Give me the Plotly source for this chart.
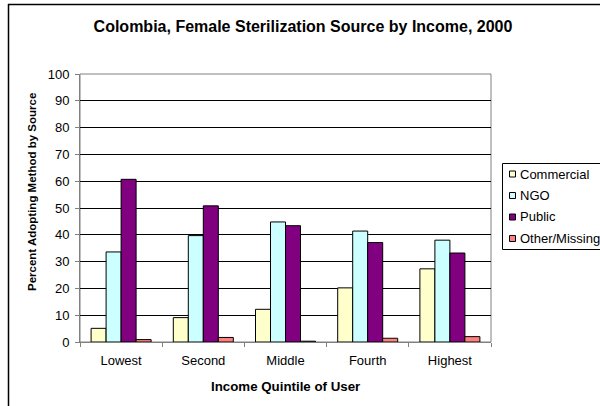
import plotly.graph_objects as go

# Income quintiles and the source of female sterilization (percent of adopters)
quintiles = ["Lowest", "Second", "Middle", "Fourth", "Highest"]
commercial = [5.1, 9.1, 12.2, 20.2, 27.3]
ngo = [33.6, 39.7, 44.8, 41.4, 38.0]
public = [60.7, 50.8, 43.4, 37.1, 33.2]
other_missing = [0.9, 1.7, 0.3, 1.4, 2.0]

series_names = ["Commercial", "NGO", "Public", "Other/Missing"]
series_values = [commercial, ngo, public, other_missing]
series_colors = ["#FFFFCC", "#CCFFFF", "#800080", "#FF8080"]

W, H = 600, 406
L, R, T, B = 80, 491, 74, 342  # plot area in pixels

font = "Liberation Sans, Arial, sans-serif"

fig = go.Figure()
for name, vals, color in zip(series_names, series_values, series_colors):
    fig.add_trace(go.Bar(
        name=name, x=quintiles, y=vals,
        marker=dict(color=color, line=dict(color="#000000", width=1)),
    ))


def px_x(p):
    return (p - L) / (R - L)


def px_y(p):
    return (B - p) / (B - T)


fig.update_layout(
    width=W, height=H,
    margin=dict(l=L, r=W - R, t=T, b=H - B, autoexpand=False),
    paper_bgcolor="white", plot_bgcolor="white",
    font=dict(family=font, size=13, color="black"),
    barmode="group", bargap=0.27, bargroupgap=0,
    showlegend=False,
    title=dict(
        text="<b>Colombia, Female Sterilization Source by Income, 2000</b>",
        x=303 / W, xref="container", xanchor="center",
        y=1 - 26 / H, yref="container", yanchor="middle",
        font=dict(family=font, size=16, color="black"),
    ),
)

fig.update_yaxes(
    range=[0, 100], dtick=10, tick0=0,
    showgrid=True, gridcolor="black", gridwidth=1,
    showline=True, linecolor="#808080", linewidth=1,
    ticks="outside", ticklen=4, tickcolor="#808080", ticklabelstandoff=3,
    tickfont=dict(size=13), zeroline=False, fixedrange=True,
)
fig.update_xaxes(
    showline=True, linecolor="#808080", linewidth=1,
    ticks="outside", ticklen=4, tickcolor="#808080", tickson="boundaries",
    ticklabelstandoff=6,
    tickfont=dict(size=13), fixedrange=True,
)

shapes = [
    # plot-area frame
    dict(type="rect", xref="paper", yref="paper", x0=0, x1=1, y0=0, y1=1,
         line=dict(color="#808080", width=1), layer="below"),
    # outer chart frame (left and top edges)
    dict(type="line", xref="paper", yref="paper",
         x0=px_x(8.5), x1=px_x(8.5), y0=px_y(4), y1=px_y(420),
         line=dict(color="black", width=1.5)),
    dict(type="line", xref="paper", yref="paper",
         x0=px_x(8), x1=px_x(620), y0=px_y(4.5), y1=px_y(4.5),
         line=dict(color="black", width=1.5)),
    # legend box
    dict(type="rect", xref="paper", yref="paper",
         x0=px_x(502.5), x1=px_x(640), y0=px_y(163.5), y1=px_y(249.5),
         line=dict(color="black", width=1), fillcolor="white"),
]

# legend entries: small swatch plus label per series
legend_top, legend_step = 174, 21.5
for i, (name, color) in enumerate(zip(series_names, series_colors)):
    cy = legend_top + i * legend_step
    shapes.append(dict(
        type="rect", xref="paper", yref="paper",
        x0=px_x(509.5), x1=px_x(515.5), y0=px_y(cy + 3), y1=px_y(cy - 3),
        line=dict(color="black", width=1), fillcolor=color,
    ))
    fig.add_annotation(
        text=name, xref="paper", yref="paper", x=px_x(517.5), y=px_y(cy),
        showarrow=False, xanchor="left", yanchor="middle",
        font=dict(family=font, size=13, color="black"),
    )
fig.update_layout(shapes=shapes)

fig.add_annotation(
    text="<b>Percent Adopting Method by Source</b>", textangle=-90,
    xref="paper", yref="paper", x=px_x(32), y=px_y(192),
    showarrow=False, xanchor="center", yanchor="middle",
    font=dict(family=font, size=11.5, color="black"),
)
fig.add_annotation(
    text="<b>Income Quintile of User</b>",
    xref="paper", yref="paper", x=px_x(285), y=px_y(386),
    showarrow=False, xanchor="center", yanchor="middle",
    font=dict(family=font, size=13.3, color="black"),
)

fig.write_html("out.html")
